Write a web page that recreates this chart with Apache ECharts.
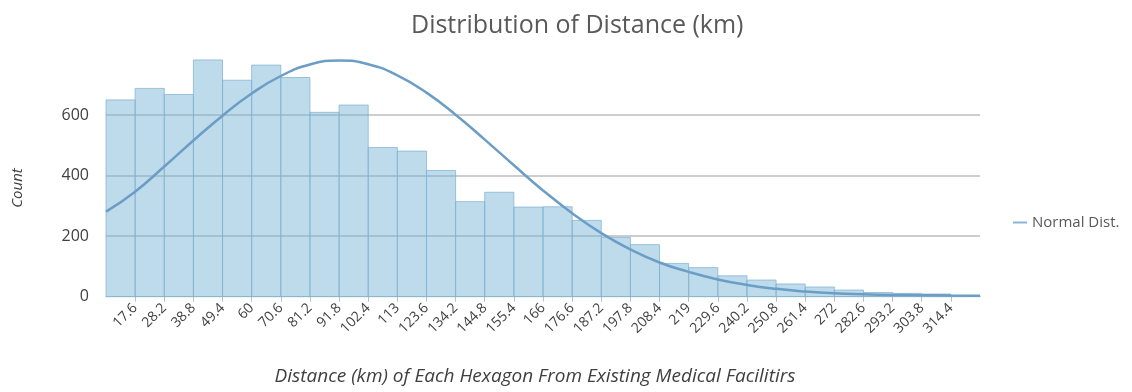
<!DOCTYPE html>
<html>
<head>
<meta charset="utf-8">
<script src="https://cdn.jsdelivr.net/npm/echarts@6/dist/echarts.min.js"></script>
<style>
  html, body { margin: 0; padding: 0; background: #fff; }
  #chart { width: 1132px; height: 392px; }
</style>
</head>
<body>
<div id="chart"></div>
<script>
// Bin edges shown on the x axis (inner boundaries of the 30 histogram bins)
const binEdgeLabels = ['17.6','28.2','38.8','49.4','60','70.6','81.2','91.8','102.4','113',
  '123.6','134.2','144.8','155.4','166','176.6','187.2','197.8','208.4','219',
  '229.6','240.2','250.8','261.4','272','282.6','293.2','303.8','314.4'];

// Hexagon count in each distance bin
const binCounts = [650, 688, 668, 782, 715, 765, 724, 609, 633, 493,
  481, 417, 314, 345, 296, 297, 252, 196, 172, 110,
  96, 69, 55, 42, 32, 22, 14, 11, 9, 4];

// Fitted normal curve, sampled at every bin boundary (0..30)
const normalCurve = [281, 347, 430, 516, 598, 671, 729, 767, 780, 768,
  731, 674, 601, 519, 434, 351, 276, 210, 156, 113,
  82, 57, 39, 26, 17, 11, 8, 6, 5, 4, 3];

const yTicks = [0, 200, 400, 600];

const chart = echarts.init(document.getElementById('chart'), null, { renderer: 'canvas' });

const fontFam = '"Open Sans", "Liberation Sans", sans-serif';
const edgeIdx = binEdgeLabels.map((_, i) => i + 1);

chart.setOption({
  animation: false,
  backgroundColor: '#ffffff',
  title: {
    text: 'Distribution of Distance (km)',
    left: 406,
    top: 8,
    textStyle: { fontFamily: fontFam, fontSize: 25, fontWeight: 'normal', color: '#595959' }
  },
  legend: {
    data: ['Normal Dist.'],
    left: 1008,
    top: 210,
    icon: 'rect',
    itemWidth: 14,
    itemHeight: 2,
    itemGap: 6,
    textStyle: { fontFamily: fontFam, fontSize: 15, color: '#595959' }
  },
  graphic: [
    {
      type: 'text',
      x: 18,
      y: 188,
      rotation: Math.PI / 2,
      style: {
        text: 'Count',
        fontFamily: fontFam,
        fontSize: 15,
        fontStyle: 'italic',
        fill: '#404040',
        align: 'center',
        verticalAlign: 'middle'
      }
    },
    {
      type: 'text',
      x: 535,
      y: 377,
      style: {
        text: 'Distance (km) of Each Hexagon From Existing Medical Facilitirs',
        fontFamily: fontFam,
        fontSize: 19,
        fontStyle: 'italic',
        fill: '#404040',
        align: 'center',
        verticalAlign: 'middle'
      }
    }
  ],
  grid: { left: 106, right: 152, top: 54.5, bottom: 95.3, containLabel: false },
  xAxis: {
    type: 'value',
    min: 0,
    max: 30,
    interval: 1,
    axisLine: { show: true, lineStyle: { color: '#bfbfbf', width: 1 } },
    axisTick: { show: true, customValues: edgeIdx, length: 5, lineStyle: { color: '#bfbfbf' } },
    axisLabel: {
      customValues: edgeIdx,
      rotate: 45,
      margin: 9,
      fontFamily: fontFam,
      fontSize: 14,
      color: '#404040',
      formatter: v => binEdgeLabels[Math.round(v) - 1] || ''
    },
    splitLine: { show: false }
  },
  yAxis: {
    type: 'value',
    min: 0,
    max: 800,
    interval: 200,
    axisLine: { show: false },
    axisTick: { show: false },
    axisLabel: {
      customValues: yTicks,
      margin: 17,
      fontFamily: fontFam,
      fontSize: 16,
      color: '#404040'
    },
    splitLine: {
      show: true,
      showMinLine: false,
      showMaxLine: false,
      lineStyle: { color: '#bcbcbc', width: 1.5 }
    }
  },
  series: [
    {
      name: 'Count',
      type: 'custom',
      z: 3,
      data: binCounts.map((c, i) => [i, c]),
      renderItem: function (params, api) {
        const i = api.value(0);
        const top = api.coord([i, api.value(1)]);
        const base = api.coord([i + 1, 0]);
        return {
          type: 'rect',
          shape: { x: top[0], y: top[1], width: base[0] - top[0], height: base[1] - top[1] },
          style: { fill: 'rgba(120,180,215,0.48)', stroke: 'rgba(130,178,210,0.75)', lineWidth: 1 }
        };
      }
    },
    {
      name: 'Normal Dist.',
      type: 'line',
      z: 5,
      smooth: true,
      showSymbol: false,
      data: normalCurve.map((v, i) => [i, v]),
      lineStyle: { color: '#6b9dc5', width: 2.5 },
      itemStyle: { color: '#8ab4d6' }
    }
  ]
});
</script>
</body>
</html>
